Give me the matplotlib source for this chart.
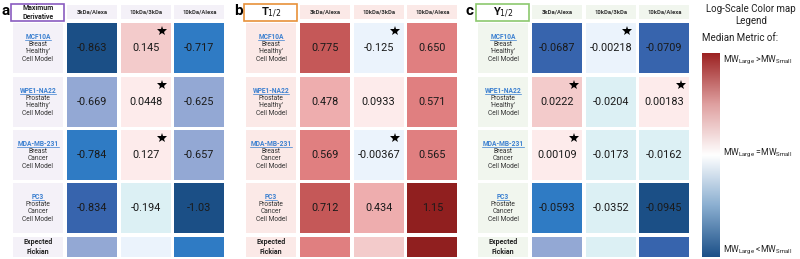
import numpy as np
import matplotlib
matplotlib.use("Agg")
import matplotlib.pyplot as plt
from matplotlib.colors import ListedColormap, BoundaryNorm, LinearSegmentedColormap
from matplotlib.patches import Rectangle

plt.rcParams["font.family"] = ["Roboto", "DejaVu Sans"]

# ---- data ----
cell_lines = ["MCF10A", "WPE1-NA22", "MDA-MB-231", "PC3"]
cell_desc = [["Breast", "'Healthy'", "Cell Model"],
             ["Prostate", "'Healthy'", "Cell Model"],
             ["Breast", "Cancer", "Cell Model"],
             ["Prostate", "Cancer", "Cell Model"]]
ratios = ["3kDa/Alexa", "10kDa/3kDa", "10kDa/Alexa"]

max_deriv = [[-0.863, 0.145, -0.717],
             [-0.669, 0.0448, -0.625],
             [-0.784, 0.127, -0.657],
             [-0.834, -0.194, -1.03]]
t_half = [[0.775, -0.125, 0.650],
          [0.478, 0.0933, 0.571],
          [0.569, -0.00367, 0.565],
          [0.712, 0.434, 1.15]]
y_half = [[-0.0687, -0.00218, -0.0709],
          [0.0222, -0.0204, 0.00183],
          [0.00109, -0.0173, -0.0162],
          [-0.0593, -0.0352, -0.0945]]
labels_txt = [["-0.863", "0.145", "-0.717"], ["-0.669", "0.0448", "-0.625"],
              ["-0.784", "0.127", "-0.657"], ["-0.834", "-0.194", "-1.03"]]
labels_t = [["0.775", "-0.125", "0.650"], ["0.478", "0.0933", "0.571"],
            ["0.569", "-0.00367", "0.565"], ["0.712", "0.434", "1.15"]]
labels_y = [["-0.0687", "-0.00218", "-0.0709"], ["0.0222", "-0.0204", "0.00183"],
            ["0.00109", "-0.0173", "-0.0162"], ["-0.0593", "-0.0352", "-0.0945"]]

# expected Fickian row has no printed numbers, values guessed from shading
fick_a = [-0.65, -0.05, -0.75]
fick_b = [0.6, 0.25, 1.1]
fick_c = [-0.05, -0.03, -0.07]

stars_a = [(0, 1), (1, 1), (2, 1)]
stars_b = [(0, 1), (2, 1)]
stars_c = [(0, 1), (1, 0), (1, 2), (2, 0)]

# stepped log-scale palette, dark blue -> dark red
palette = ["#1b4f86", "#3764ad", "#2f7bc4", "#93a8d4", "#dcf0f4", "#ebf3fc",
           "#fdebeb", "#f3cbcb", "#eeadae", "#e07f80", "#c55858", "#901f1f"]
cmap = ListedColormap(palette)
edges_a = [-1.2, -0.85, -0.8, -0.7, -0.4, -0.1, 0, 0.14, 0.3, 0.4, 0.5, 0.6, 0.7]
edges_b = [-0.7, -0.6, -0.5, -0.4, -0.3, -0.2, 0, 0.15, 0.4, 0.5, 0.66, 0.9, 1.3]
edges_c = [-0.12, -0.08, -0.065, -0.055, -0.04, -0.01, 0, 0.01, 0.03, 0.04, 0.05, 0.06, 0.07]

panels = [
    dict(tag="a", title="Maximum\nDerivative", vals=max_deriv, txt=labels_txt, fick=fick_a,
         stars=stars_a, edges=edges_a, x0=13, bg="#f4f1f8", border="#8a5cc0"),
    dict(tag="b", title=r"T$_{1/2}$", vals=t_half, txt=labels_t, fick=fick_b,
         stars=stars_b, edges=edges_b, x0=246, bg="#fbe9e7", border="#e8913a"),
    dict(tag="c", title=r"Y$_{1/2}$", vals=y_half, txt=labels_y, fick=fick_c,
         stars=stars_c, edges=edges_c, x0=478, bg="#f1f6ee", border="#8cc86e"),
]

fig = plt.figure(figsize=(8, 2.59), dpi=100)
ax = fig.add_axes([0, 0, 1, 1])
ax.set_xlim(0, 800)
ax.set_ylim(259, 0)
ax.axis("off")

lab_w = 50
cell_w = 50
col_step = 53.7
row_y = [23, 77, 130, 183]
cell_h = 50
fick_y, fick_h = 237, 20
head_y, head_h = 5, 14
name_texts = []

for p in panels:
    norm = BoundaryNorm(p["edges"], ncolors=len(palette))
    x0 = p["x0"]
    cx0 = x0 + 54
    ax.text(x0 - 12, 11, p["tag"], fontsize=11, fontweight="bold", ha="left", va="center")
    # title box
    ax.add_patch(Rectangle((x0 - 2, 4), lab_w + 3, 17, facecolor="white",
                           edgecolor=p["border"], lw=1.2))
    if p["tag"] == "a":
        ax.text(x0 + lab_w / 2, 12.5, p["title"], fontsize=5, fontweight="bold",
                ha="center", va="center", linespacing=1.1, color="#222222")
    else:
        ax.text(x0 + lab_w / 2, 12.5, p["title"], fontsize=8, fontweight="bold",
                ha="center", va="center", color="#111111")
    # column headers
    for j, r in enumerate(ratios):
        x = cx0 + j * col_step
        ax.add_patch(Rectangle((x, head_y), cell_w, head_h, facecolor=p["bg"], edgecolor="none"))
        ax.text(x + cell_w / 2, head_y + head_h / 2, r, fontsize=4.2, fontweight="bold",
                ha="center", va="center", color="#333333")
    # rows
    for i, y in enumerate(row_y):
        ax.add_patch(Rectangle((x0, y), lab_w, cell_h, facecolor=p["bg"], edgecolor="none"))
        cy = y + cell_h / 2
        ls = 7.6
        t = ax.text(x0 + lab_w / 2, cy - 1.5 * ls, cell_lines[i], fontsize=4.8, ha="center",
                    va="center", color="#3a7fd0", fontweight="bold")
        name_texts.append(t)
        for k, d in enumerate(cell_desc[i]):
            ax.text(x0 + lab_w / 2, cy + (k - 0.5) * ls, d, fontsize=4.8, ha="center",
                    va="center", color="#333333")
        for j in range(3):
            x = cx0 + j * col_step
            v = p["vals"][i][j]
            ax.add_patch(Rectangle((x, y), cell_w, cell_h, facecolor=cmap(norm(v)),
                                   edgecolor="none"))
            ax.text(x + cell_w / 2, cy, p["txt"][i][j], fontsize=7.8, ha="center",
                    va="center", color="#1a1a1a")
    for (i, j) in p["stars"]:
        x = cx0 + j * col_step
        ax.plot(x + cell_w - 8.5, row_y[i] + 8, marker="*", color="black", markersize=7.5,
                markeredgewidth=0)
    # expected fickian row
    ax.add_patch(Rectangle((x0, fick_y), lab_w, fick_h, facecolor=p["bg"], edgecolor="none"))
    ax.text(x0 + lab_w / 2, fick_y + fick_h / 2, "Expected\nFickian", fontsize=5,
            fontweight="bold", ha="center", va="center", linespacing=1.2, color="#222222")
    for j in range(3):
        x = cx0 + j * col_step
        ax.add_patch(Rectangle((x, fick_y), cell_w, fick_h, facecolor=cmap(norm(p["fick"][j])),
                               edgecolor="none"))

# underline cell line names
fig.canvas.draw()
renderer = fig.canvas.get_renderer()
inv = ax.transData.inverted()
for t in name_texts:
    bb = t.get_window_extent(renderer)
    (xa, ya), (xb, yb) = inv.transform([[bb.x0, bb.y0], [bb.x1, bb.y1]])
    ax.plot([xa, xb], [ya - 0.6, ya - 0.6], color="#3a7fd0", lw=0.5)

# legend colour bar
legend_cmap = LinearSegmentedColormap.from_list(
    "leg", ["#1c5088", "#8aaed0", "#ffffff", "#dfa0a0", "#9c2222"])
grad = np.linspace(-1, 1, 256).reshape(-1, 1)
ax.imshow(grad, cmap=legend_cmap, extent=(702, 720, 257, 53), origin="lower", aspect="auto")
ax.set_xlim(0, 800)
ax.set_ylim(259, 0)
ax.text(751, 15, "Log-Scale Color map\nLegend", fontsize=7, ha="center", va="center",
        linespacing=1.15, color="#222222")
ax.text(702, 38, "Median Metric of:", fontsize=7, ha="left", va="center", color="#222222")
mw_labels = [r"MW$_\mathregular{Large}$ >MW$_\mathregular{Small}$",
             r"MW$_\mathregular{Large}$ =MW$_\mathregular{Small}$",
             r"MW$_\mathregular{Large}$ <MW$_\mathregular{Small}$"]
for lab, y in zip(mw_labels, [60, 153, 250]):
    ax.text(723, y, lab, fontsize=6.2, ha="left", va="center", color="#222222")

fig.savefig("out.png", dpi=100)
